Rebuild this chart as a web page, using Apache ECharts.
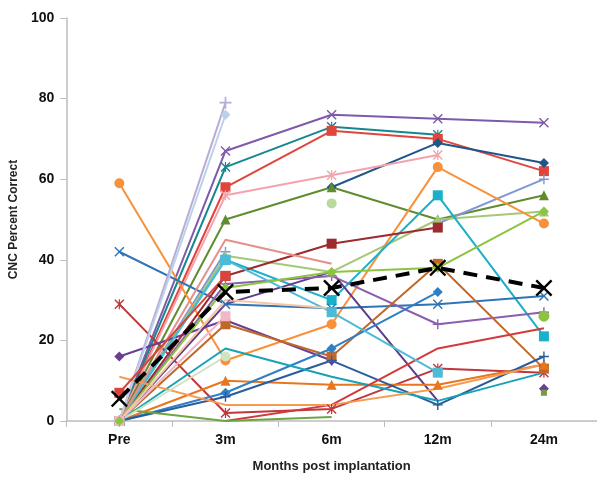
<!DOCTYPE html>
<html><head><meta charset="utf-8">
<script src="https://cdn.jsdelivr.net/npm/echarts@6/dist/echarts.min.js"></script>
<style>html,body{margin:0;padding:0;background:#fff}#c{width:597px;height:478px}</style>
</head><body><div id="c"></div>
<script>
const categories = ['Pre','3m','6m','12m','24m'];
const yTicks = [0,20,40,60,80,100];
// subject values (CNC % correct), null = not tested
const s01 = [0, 67, 76, 75, 74];
const s02 = [0, 63, 73, 71, null];
const s03 = [0, 58, 72, 70, 62];
const s04 = [null, null, 58, 69, 64];
const s05 = [0, 56, 61, 66, null];
const s06 = [0, 50, 58, 50, 56];
const s07 = [null, null, 54, null, null];
const s08 = [0, 42, null, 49, 60];
const s09 = [0, 41, 37, 50, 52];
const s10 = [59, 15, 24, 63, 49];
const s11 = [0, 40, 30, 56, 21];
const s13 = [42, 29, 28, 29, 31];
const s14 = [29, 2, 3, 13, 12];
const s15 = [16, 25, 15, null, 8];
const s16 = [0, 29, 37, 5, null];
const s17 = [0, 34, 36, 24, 27];
const s18 = [0, 36, 44, 48, null];
const s19 = [0, 24, 16, 39, 13];
const s20 = [0, 10, 9, 9, 14];
const s21 = [0, 7, 18, 32, null];
const s22 = [0, 6, 15, 4, 16];
const s23 = [0, 18, 11, 5, 12];
const s24 = [null, 0, 4, 18, 23];
const s25 = [0, 40, 27, 12, null];
const s26 = [3, 0, 1, null, null];
const s27 = [0, 79, null, null, null];
const s28 = [0, 76, null, null, null];
const s29 = [0, 45, 39, null, null];
const s30 = [11, 4, 4, 8, 14];
const s31 = [0, 16, null, null, null];
const s32 = [0, 26, null, null, null];
const s33 = [0, 33, 37, 38, 52];
const s34 = [0, 30, 28, null, null];
const s35 = [null, null, null, null, 26];
const s36 = [7, 36, null, null, null];
const s37 = [null, null, null, null, 7];
const meanVals = [5.5, 32, 33, 38, 33];

const X = 'path://M1,0 L5,4 L9,0 L10,1 L6,5 L10,9 L9,10 L5,6 L1,10 L0,9 L4,5 L0,1 Z';
const PLUS = 'path://M4.3,0 L5.7,0 L5.7,4.3 L10,4.3 L10,5.7 L5.7,5.7 L5.7,10 L4.3,10 L4.3,5.7 L0,5.7 L0,4.3 L4.3,4.3 Z';
const AST = 'path://M1,0 L5,4 L9,0 L10,1 L6,5 L10,9 L9,10 L5,6 L1,10 L0,9 L4,5 L0,1 Z M4.4,0 L5.6,0 L5.6,10 L4.4,10 Z';

const styles = [
  [s01,'#7E5AA8',X,10],
  [s02,'#16868F',AST,10],
  [s03,'#E0453D','rect',10],
  [s04,'#1F5689','diamond',10],
  [s05,'#F2A3AC',AST,10],
  [s06,'#5F8C2F','triangle',10],
  [s07,'#B9D99F','circle',10],
  [s08,'#8298D2',PLUS,10],
  [s09,'#A3C978','triangle',10],
  [s10,'#F9913A','circle',10],
  [s11,'#1AB0C9','rect',10],
  [s13,'#2F74B5',X,10],
  [s14,'#C0363B',AST,10],
  [s15,'#6A3E92','diamond',10],
  [s16,'#5F3C87','none',6],
  [s17,'#8A5FB0',PLUS,10],
  [s18,'#9A2B2E','rect',10],
  [s19,'#C0682A','rect',10],
  [s20,'#E7761F','triangle',10],
  [s21,'#2F7FC4','diamond',10],
  [s22,'#2A5C9C',PLUS,10],
  [s23,'#17A2B6','none',6],
  [s24,'#D23A3A','none',6],
  [s25,'#4CBBD8','rect',10],
  [s26,'#6BA544','none',6],
  [s27,'#B8ACD6',PLUS,12],
  [s28,'#BCD0E8','diamond',10],
  [s29,'#E58F8B','none',6],
  [s30,'#F79A4E','none',6],
  [s31,'#CFE3BF','circle',10],
  [s32,'#F2B8C6','rect',10],
  [s33,'#8CC43F','diamond',10],
  [s34,'#F7C6A6','none',6],
  [s35,'#8CC43F','circle',11],
  [s36,'#D9443C','rect',10],
  [s37,'#7A9A3E','rect',6]
];

const series = styles.map(([d,c,sym,sz]) => ({
  type:'line', data:d, symbol:sym, symbolSize:sz, showSymbol: sym!=='none', showAllSymbol:true,
  lineStyle:{color:c,width:2}, itemStyle:{color:c}, animation:false, z:2, connectNulls:false
}));
series.push({
  type:'line', data:meanVals, symbol:X, symbolSize:17,
  lineStyle:{color:'#000',width:4,type:[14,9]}, itemStyle:{color:'#000'}, z:10, animation:false
});

const chart = echarts.init(document.getElementById('c'), null, {renderer:'canvas'});
chart.setOption({
  backgroundColor:'#fff',
  animation:false,
  grid:{left:63,right:0,top:18,bottom:55,containLabel:false},
  xAxis:{type:'category',data:categories,boundaryGap:true,
    name:'Months post implantation',nameLocation:'middle',nameGap:39,
    nameTextStyle:{fontFamily:'Liberation Sans',fontWeight:'bold',fontSize:13,color:'#222'},
    axisLine:{lineStyle:{color:'#BDBDBD',width:1.5}},
    axisTick:{show:true,length:6,lineStyle:{color:'#BDBDBD'}},
    axisLabel:{fontFamily:'Liberation Sans',fontWeight:'bold',fontSize:14,color:'#111',margin:12},
    splitLine:{show:false}},
  yAxis:{type:'value',min:yTicks[0],max:yTicks[yTicks.length-1],interval:20,
    name:'CNC Percent Correct',nameLocation:'middle',nameGap:45,nameRotate:90,
    nameTextStyle:{fontFamily:'Liberation Sans',fontWeight:'bold',fontSize:12,color:'#222'},
    axisLine:{show:true,lineStyle:{color:'#BDBDBD',width:1.5}},
    axisTick:{show:true,length:6,lineStyle:{color:'#BDBDBD'}},
    axisLabel:{fontFamily:'Liberation Sans',fontWeight:'bold',fontSize:14,color:'#111',margin:12},
    splitLine:{show:false}},
  series: series
});
</script></body></html>
